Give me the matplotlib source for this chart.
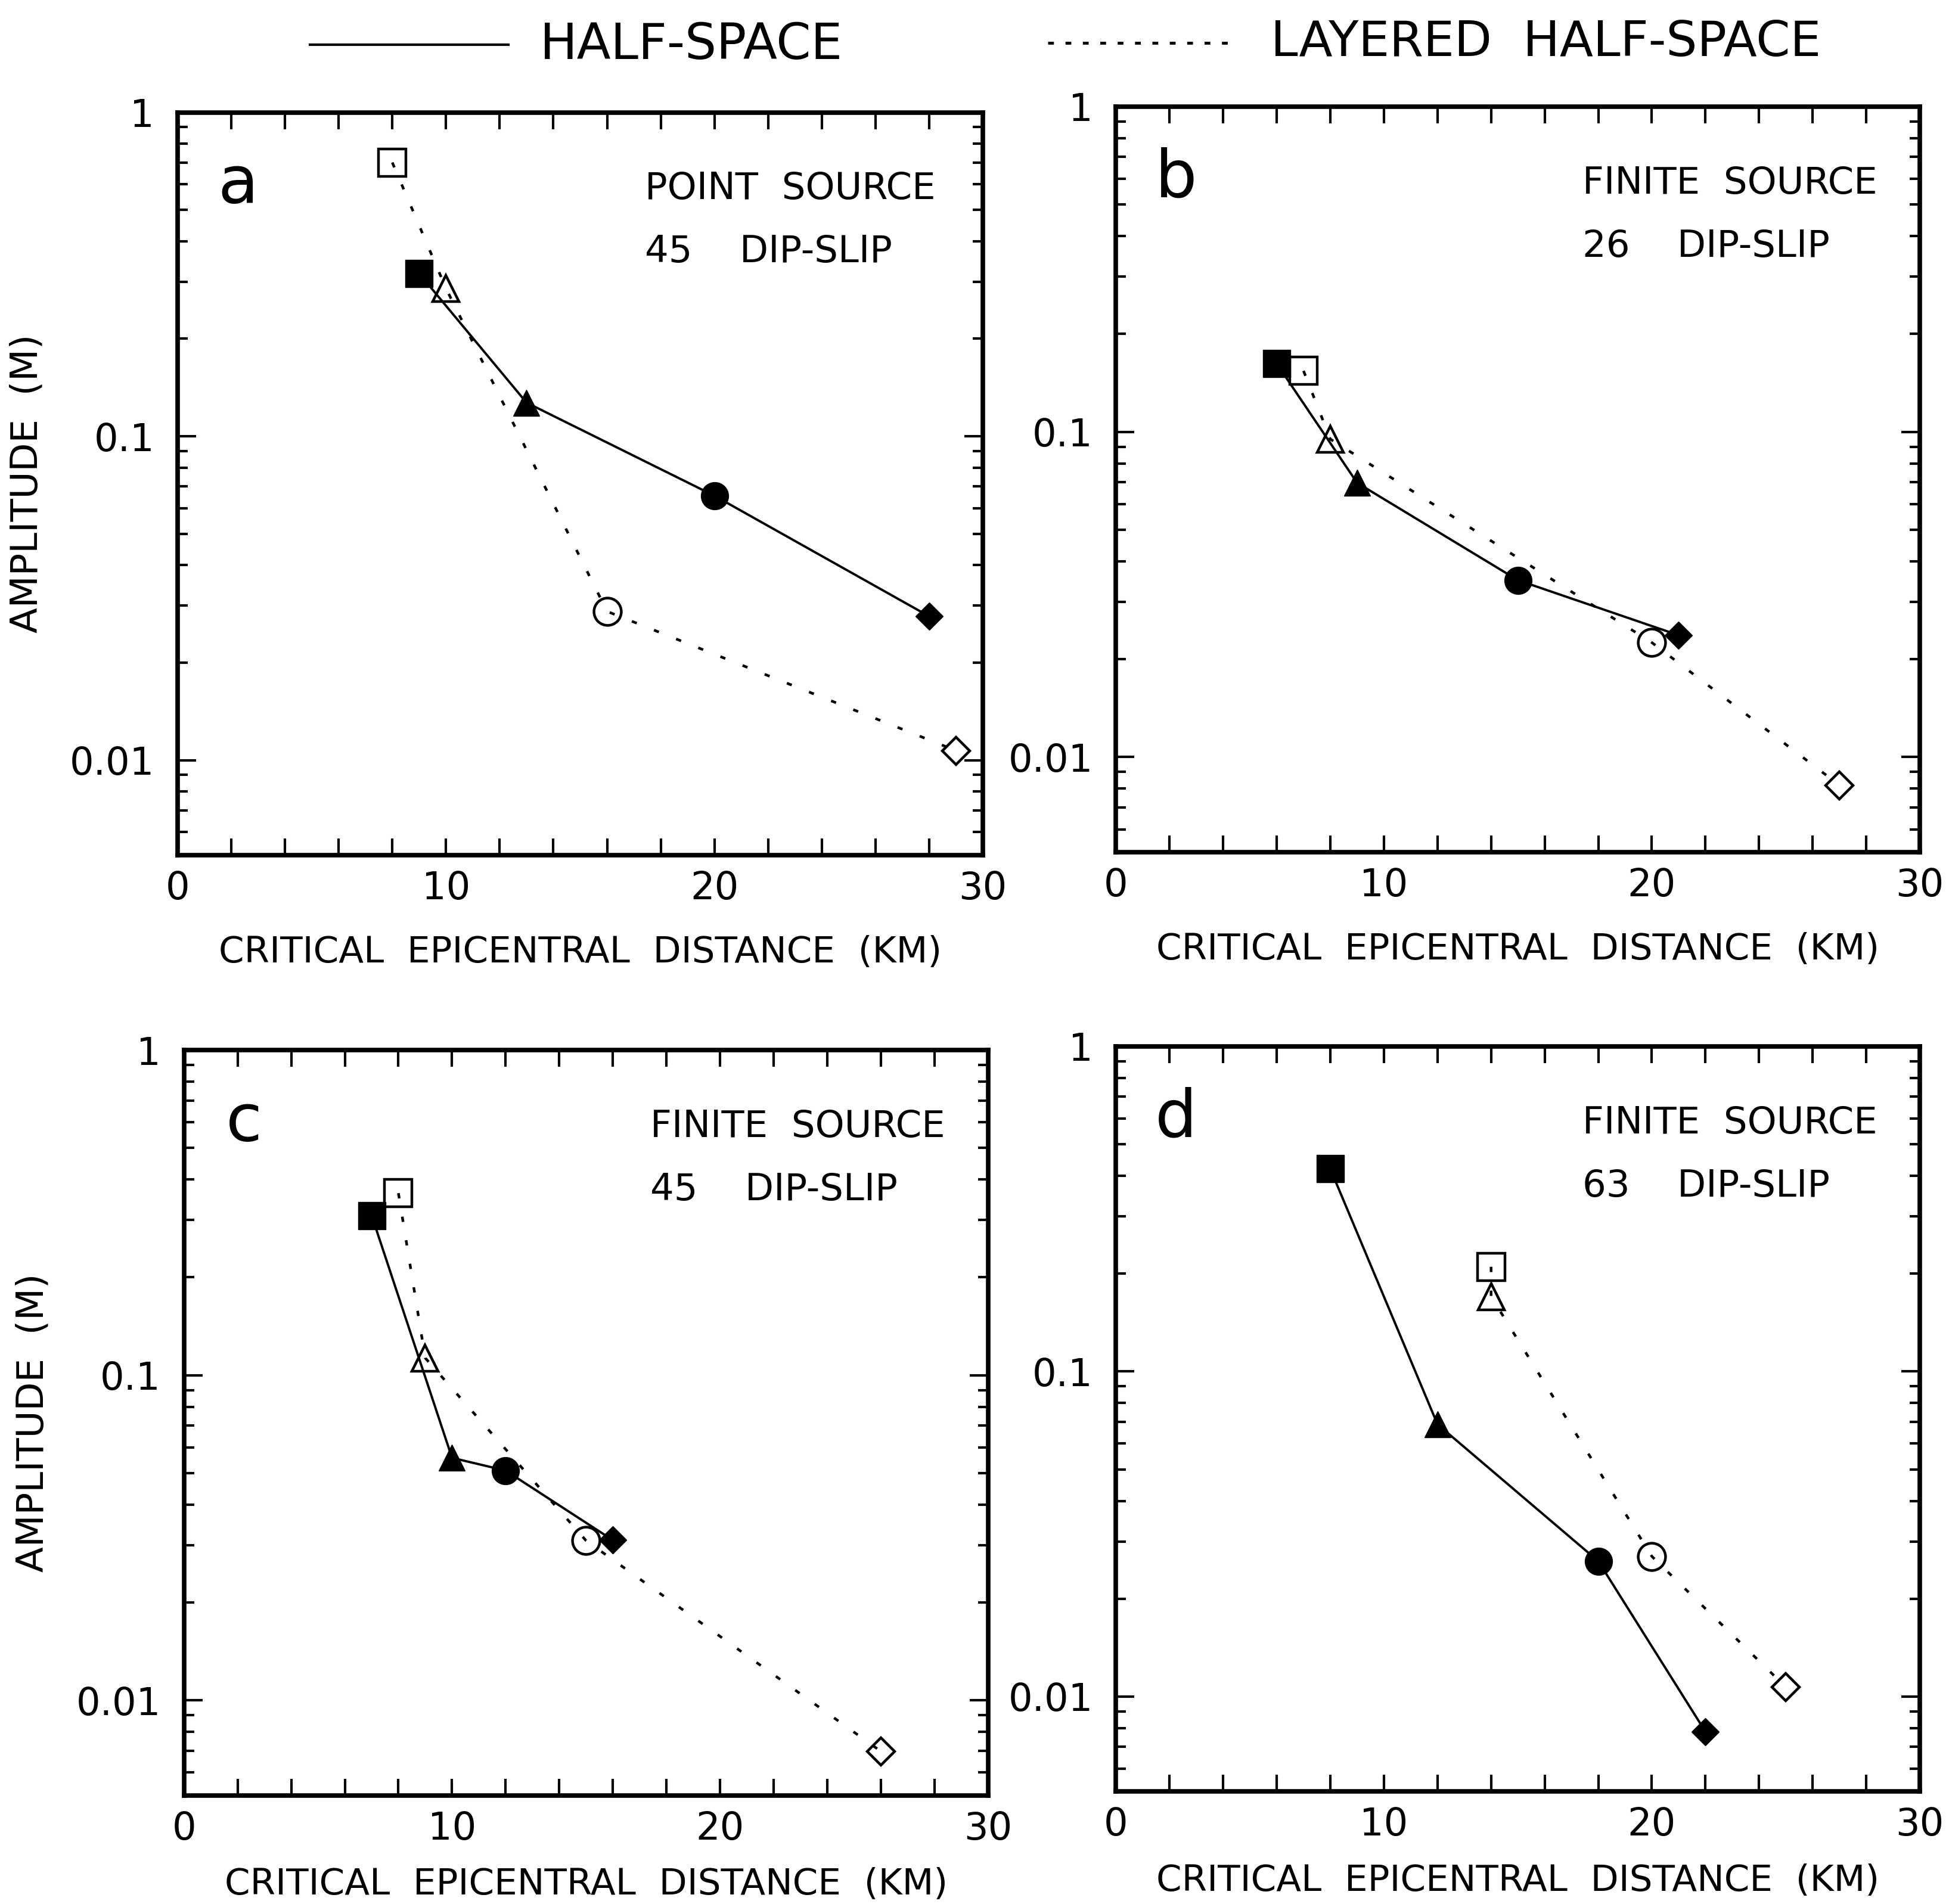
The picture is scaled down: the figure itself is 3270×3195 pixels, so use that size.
import matplotlib
matplotlib.use("Agg")
import matplotlib.pyplot as plt
from matplotlib.lines import Line2D
from matplotlib.ticker import FixedLocator, LogLocator, MultipleLocator, NullFormatter

plt.rcParams["font.family"] = ["DejaVu Sans"]

# distances (km) and amplitudes (m)
panel_letters = ["a", "b", "c", "d"]
panel_titles = ["POINT  SOURCE", "FINITE  SOURCE", "FINITE  SOURCE", "FINITE  SOURCE"]
panel_dips = ["45    DIP-SLIP", "26    DIP-SLIP", "45    DIP-SLIP", "63    DIP-SLIP"]

half_x = [
    [9, 13, 20, 28],
    [6, 9, 15, 21],
    [7, 10, 12, 16],
    [8, 12, 18, 22],
]
half_y = [
    [0.318, 0.127, 0.0655, 0.0278],
    [0.162, 0.0697, 0.035, 0.0237],
    [0.31, 0.0557, 0.0509, 0.0311],
    [0.42, 0.0688, 0.0261, 0.0078],
]
layer_x = [
    [8, 10, 16, 29],
    [7, 8, 20, 27],
    [8, 9, 15, 26],
    [14, 14, 20, 25],
]
layer_y = [
    [0.70, 0.286, 0.0288, 0.0107],
    [0.154, 0.095, 0.0225, 0.0082],
    [0.363, 0.113, 0.031, 0.00697],
    [0.21, 0.170, 0.027, 0.0107],
]
marker_shapes = ["s", "^", "o", "D"]
marker_sizes = [33, 32, 33, 23]

axes_rects = [
    [0.0911, 0.551, 0.4132, 0.390],
    [0.5726, 0.5524, 0.4124, 0.3916],
    [0.0944, 0.057, 0.4126, 0.3915],
    [0.5726, 0.059, 0.4124, 0.3914],
]

fig = plt.figure(figsize=(32.7, 31.95), dpi=100)

dots = (0, (2, 7))
for i in range(4):
    ax = fig.add_axes(axes_rects[i])
    ax.plot(half_x[i], half_y[i], color="black", lw=2.8, zorder=2)
    ax.plot(layer_x[i], layer_y[i], color="black", lw=3.2, linestyle=dots, zorder=2)
    for j in range(4):
        ax.plot(half_x[i][j], half_y[i][j], marker=marker_shapes[j],
                ms=marker_sizes[j], color="black", mec="black", zorder=3)
        ax.plot(layer_x[i][j], layer_y[i][j], marker=marker_shapes[j],
                ms=marker_sizes[j], mfc="none", mec="black", mew=3.2, zorder=3)

    ax.set_yscale("log")
    ax.set_ylim(0.0051, 1)
    ax.set_xlim(0, 30)
    ax.xaxis.set_major_locator(MultipleLocator(10))
    ax.xaxis.set_minor_locator(MultipleLocator(2))
    ax.yaxis.set_major_locator(FixedLocator([0.01, 0.1, 1]))
    ax.yaxis.set_minor_locator(LogLocator(base=10, subs=range(2, 10)))
    ax.yaxis.set_minor_formatter(NullFormatter())
    ax.set_yticklabels(["0.01", "0.1", "1"])
    ax.tick_params(which="both", direction="in", top=True, right=True,
                   width=3, labelsize=46)
    ax.tick_params(axis="x", which="both", length=20, pad=18)
    ax.tick_params(axis="y", which="major", length=22, pad=28)
    ax.tick_params(axis="y", which="minor", length=12, pad=28)
    for sp in ax.spines.values():
        sp.set_linewidth(5.5)

    ax.set_xlabel("CRITICAL  EPICENTRAL  DISTANCE  (KM)", fontsize=44,
                  labelpad=34 if i < 2 else 24)
    if i % 2 == 0:
        ax.set_ylabel("AMPLITUDE  (M)", fontsize=45, labelpad=30)

    ax.text(0.075, 0.903, panel_letters[i], transform=ax.transAxes, fontsize=80,
            ha="center", va="center")
    ax.text(0.58, 0.897, panel_titles[i], transform=ax.transAxes, fontsize=45,
            ha="left", va="center")
    ax.text(0.58, 0.812, panel_dips[i], transform=ax.transAxes, fontsize=45,
            ha="left", va="center")

# legend across the top
fig.add_artist(Line2D([0.159, 0.261], [0.9765, 0.9765], color="black", lw=3))
fig.text(0.277, 0.9765, "HALF-SPACE", fontsize=60, ha="left", va="center")
fig.add_artist(Line2D([0.5376, 0.6345], [0.9775, 0.9775], color="black", lw=3.5,
                      linestyle=(0, (2, 4))))
fig.text(0.652, 0.9775, "LAYERED  HALF-SPACE", fontsize=59, ha="left", va="center")

fig.savefig("out.png", dpi=100)
